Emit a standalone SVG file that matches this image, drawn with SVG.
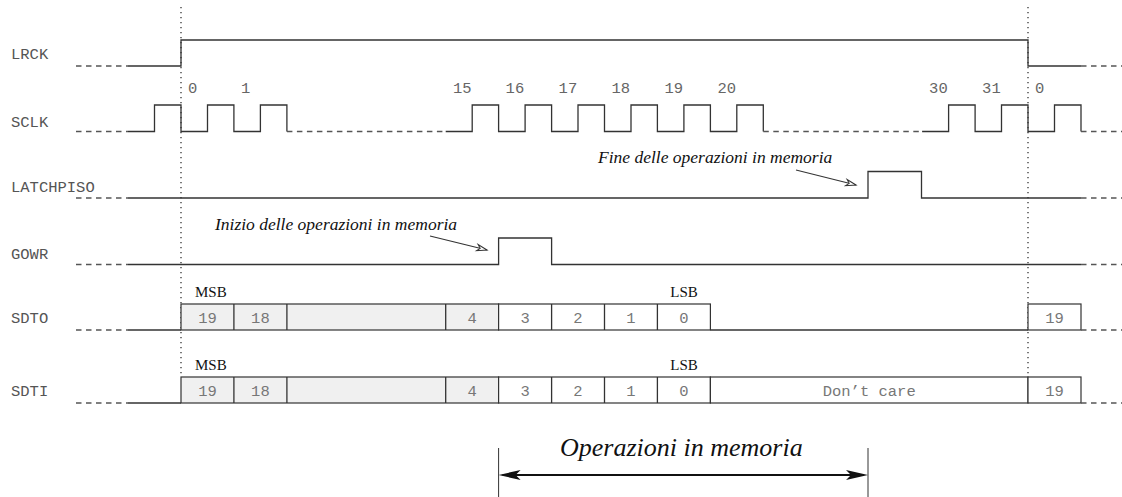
<svg xmlns="http://www.w3.org/2000/svg" width="1122" height="497" viewBox="0 0 1122 497">
  <defs>
    <style>
      .wave { fill: none; stroke: #333; stroke-width: 1.3; }
      .dash { fill: none; stroke: #555; stroke-width: 1.3; stroke-dasharray: 5.5 4.5; }
      .grid { fill: none; stroke: #222; stroke-width: 1.2; stroke-dasharray: 1.2 3.8; }
      .cell { stroke: #333; stroke-width: 1.2; }
      .busy { fill: #f0f0f0; }
      .free { fill: #fff; }
      .sig { font-family: "Liberation Mono", "DejaVu Sans Mono", monospace; font-size: 15.5px; fill: #555; }
      .num { font-family: "Liberation Mono", "DejaVu Sans Mono", monospace; font-size: 15.5px; fill: #666; }
      .bit { font-family: "Liberation Mono", "DejaVu Sans Mono", monospace; font-size: 15.5px; fill: #777; text-anchor: middle; }
      .tag { font-family: "Liberation Serif", "Times New Roman", serif; font-size: 15px; fill: #111; }
      .note { font-family: "Liberation Serif", "Times New Roman", serif; font-style: italic; font-size: 17.5px; fill: #111; }
      .span { font-family: "Liberation Serif", "Times New Roman", serif; font-style: italic; font-size: 26px; fill: #111; }
    </style>
    <marker id="openhead" markerUnits="userSpaceOnUse" orient="auto" refX="0" refY="0" markerWidth="12" markerHeight="8" overflow="visible">
      <path d="M0,0 L-10,-3.2 L-7,0 L-10,3.2 Z" fill="#fff" stroke="#333" stroke-width="1"/>
    </marker>
    <marker id="solidhead" markerUnits="userSpaceOnUse" orient="auto-start-reverse" refX="-4" refY="0" markerWidth="24" markerHeight="12" overflow="visible">
      <path d="M0,0 L-22,-5 L-17,0 L-22,5 Z" fill="#111" stroke="none"/>
    </marker>
  </defs>

  <rect x="0" y="0" width="1122" height="497" fill="#fff"/>

  <!-- frame boundaries (LRCK edges) -->
  <g id="frame-marks">
    <line class="grid" x1="181" y1="7" x2="181" y2="377"/>
    <line class="grid" x1="1028" y1="7" x2="1028" y2="377"/>
  </g>

  <!-- LRCK -->
  <g id="lrck">
    <text class="sig" x="11" y="58.5">LRCK</text>
    <path class="dash" d="M76,66 H128"/>
    <path class="wave" d="M128,66 H181 V40 H1028 V66 H1081"/>
    <path class="dash" d="M1081,66 H1122"/>
  </g>

  <!-- SCLK -->
  <g id="sclk">
    <text class="sig" x="11" y="126.5">SCLK</text>
    <path class="dash" d="M76,131.5 H128"/>
    <path class="wave" d="M128,131.5 H154.5 V105 H181 V131.5 H207.5 V105 H233.9 V131.5 H260.4 V105 H286.9 V131.5"/>
    <path class="dash" d="M286.9,131.5 H445.7"/>
    <path class="wave" d="M445.7,131.5 H472.2 V105 H498.6 V131.5 H525.1 V105 H551.6 V131.5 H578 V105 H604.5 V131.5 H631 V105 H657.4 V131.5 H683.9 V105 H710.4 V131.5 H736.8 V105 H763.3 V131.5"/>
    <path class="dash" d="M763.3,131.5 H922.1"/>
    <path class="wave" d="M922.1,131.5 H948.6 V105 H975.1 V131.5 H1001.5 V105 H1028 V131.5 H1054.5 V105 H1081 V131.5"/>
    <path class="dash" d="M1081,131.5 H1122"/>
    <text class="num" x="188" y="93">0</text>
    <text class="num" x="241" y="93">1</text>
    <text class="num" x="453" y="93">15</text>
    <text class="num" x="505.6" y="93">16</text>
    <text class="num" x="558.6" y="93">17</text>
    <text class="num" x="611.5" y="93">18</text>
    <text class="num" x="664.4" y="93">19</text>
    <text class="num" x="717.4" y="93">20</text>
    <text class="num" x="929.1" y="93">30</text>
    <text class="num" x="982.1" y="93">31</text>
    <text class="num" x="1035" y="93">0</text>
  </g>

  <!-- LATCHPISO -->
  <g id="latchpiso">
    <text class="sig" x="11" y="192">LATCHPISO</text>
    <path class="dash" d="M76,198 H128"/>
    <path class="wave" d="M128,198 H868 V171.5 H921.5 V198 H1081"/>
    <path class="dash" d="M1081,198 H1122"/>
  </g>

  <!-- GOWR -->
  <g id="gowr">
    <text class="sig" x="11" y="259">GOWR</text>
    <path class="dash" d="M76,264.5 H128"/>
    <path class="wave" d="M128,264.5 H498.6 V238 H551.6 V264.5 H1081"/>
    <path class="dash" d="M1081,264.5 H1122"/>
  </g>

  <!-- SDTO -->
  <g id="sdto">
    <text class="sig" x="11" y="323">SDTO</text>
    <path class="dash" d="M76,330 H128"/>
    <path class="wave" d="M128,330 H181"/>
    <rect class="cell busy" x="181" y="304" width="317.6" height="26"/>
    <rect class="cell free" x="498.6" y="304" width="211.8" height="26"/>
    <path class="wave" d="M233.9,304 V330 M286.9,304 V330 M445.7,304 V330 M551.6,304 V330 M604.5,304 V330 M657.4,304 V330"/>
    <path class="wave" d="M710.4,330 H1028"/>
    <rect class="cell free" x="1028" y="304" width="53" height="26"/>
    <path class="dash" d="M1081,330 H1122"/>
    <text class="tag" x="195" y="297">MSB</text>
    <text class="tag" x="684" y="297" text-anchor="middle">LSB</text>
    <text class="bit" x="207.5" y="323">19</text>
    <text class="bit" x="260.4" y="323">18</text>
    <text class="bit" x="472.2" y="323">4</text>
    <text class="bit" x="525.1" y="323">3</text>
    <text class="bit" x="578" y="323">2</text>
    <text class="bit" x="631" y="323">1</text>
    <text class="bit" x="683.9" y="323">0</text>
    <text class="bit" x="1054.5" y="323">19</text>
  </g>

  <!-- SDTI -->
  <g id="sdti">
    <text class="sig" x="11" y="396">SDTI</text>
    <path class="dash" d="M76,403 H128"/>
    <path class="wave" d="M128,403 H181"/>
    <rect class="cell busy" x="181" y="377" width="317.6" height="26"/>
    <rect class="cell free" x="498.6" y="377" width="211.8" height="26"/>
    <path class="wave" d="M233.9,377 V403 M286.9,377 V403 M445.7,377 V403 M551.6,377 V403 M604.5,377 V403 M657.4,377 V403"/>
    <rect class="cell free" x="710.4" y="377" width="317.6" height="26"/>
    <rect class="cell free" x="1028" y="377" width="53" height="26"/>
    <path class="dash" d="M1081,403 H1122"/>
    <text class="tag" x="195" y="370">MSB</text>
    <text class="tag" x="684" y="370" text-anchor="middle">LSB</text>
    <text class="bit" x="207.5" y="396">19</text>
    <text class="bit" x="260.4" y="396">18</text>
    <text class="bit" x="472.2" y="396">4</text>
    <text class="bit" x="525.1" y="396">3</text>
    <text class="bit" x="578" y="396">2</text>
    <text class="bit" x="631" y="396">1</text>
    <text class="bit" x="683.9" y="396">0</text>
    <text class="bit" x="869.2" y="396">Don’t care</text>
    <text class="bit" x="1054.5" y="396">19</text>
  </g>

  <!-- annotations -->
  <g id="note-start">
    <text class="note" x="215" y="230">Inizio delle operazioni in memoria</text>
  </g>
  <g id="note-end">
    <text class="note" x="598" y="163">Fine delle operazioni in memoria</text>
  </g>
  <g id="memory-window">
    <line x1="498.6" y1="448" x2="498.6" y2="497" stroke="#333" stroke-width="1"/>
    <line x1="868" y1="448" x2="868" y2="497" stroke="#333" stroke-width="1"/>
    <text class="span" x="560" y="456">Operazioni in memoria</text>
  </g>

  <!-- connectors -->
  <g id="connectors">
    <line x1="430" y1="236" x2="487" y2="250" stroke="#333" stroke-width="1.2" marker-end="url(#openhead)"/>
    <line x1="796" y1="170" x2="856" y2="185" stroke="#333" stroke-width="1.2" marker-end="url(#openhead)"/>
    <line x1="502.6" y1="475" x2="864" y2="475" stroke="#111" stroke-width="2.2" marker-start="url(#solidhead)" marker-end="url(#solidhead)"/>
  </g>
</svg>
